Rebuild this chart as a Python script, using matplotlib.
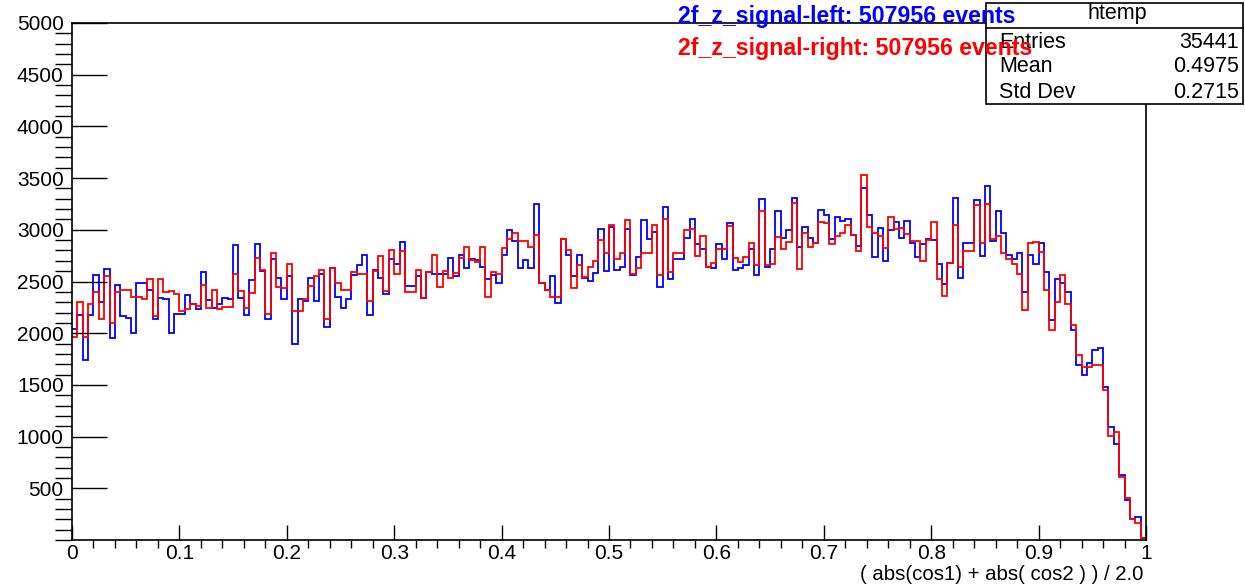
import numpy as np
import matplotlib
matplotlib.use("Agg")
import matplotlib.pyplot as plt
from matplotlib.patches import Rectangle
from matplotlib.ticker import MultipleLocator

plt.rcParams['font.family'] = ['Liberation Sans', 'DejaVu Sans']

# 200 bins on [0, 1]
x_lo = 0.0
x_hi = 1.0

left_counts = [
    2042, 2180, 1745, 2180, 2565, 2300, 2620, 1950, 2470, 2163,
    2147, 2000, 2490, 2490, 2415, 2140, 2343, 2333, 2000, 2186,
    2186, 2366, 2278, 2238, 2595, 2317, 2245, 2278, 2336, 2327,
    2850, 2343, 2180, 2519, 2859, 2597, 2138, 2713, 2536, 2326,
    2551, 1896, 2332, 2309, 2536, 2316, 2568, 2058, 2629, 2348,
    2245, 2332, 2561, 2655, 2752, 2173, 2610, 2536, 2377, 2713,
    2665, 2881, 2455, 2455, 2551, 2341, 2592, 2570, 2568, 2568,
    2723, 2551, 2752, 2632, 2720, 2707, 2640, 2526, 2560, 2487,
    2752, 2994, 2890, 2632, 2710, 2632, 3246, 2487, 2422, 2551,
    2294, 2907, 2752, 2551, 2761, 2536, 2503, 2584, 3003, 2600,
    3024, 2616, 2642, 3003, 2559, 2736, 3094, 2907, 2978, 2445,
    3220, 2526, 2713, 2713, 2923, 3100, 2859, 2817, 2642, 2629,
    2859, 2713, 3062, 2616, 2633, 2655, 2817, 2559, 3301, 2642,
    2810, 3181, 2923, 2994, 3310, 2833, 3030, 2923, 2875, 3191,
    3139, 2907, 3126, 3085, 3100, 2946, 2842, 3407, 3139, 2736,
    3020, 2697, 2994, 3078, 2923, 3085, 2875, 2736, 2859, 2907,
    2900, 2671, 2471, 2675, 3310, 2536, 2875, 2875, 3288, 2743,
    3424, 2891, 3185, 2972, 2761, 2713, 2778, 2403, 2761, 2674,
    2875, 2590, 2125, 2526, 2487, 2403, 2028, 1696, 1599, 1712,
    1841, 1854, 1480, 1092, 930, 627, 388, 200, 226, 20,
]

right_counts = [
    1960, 2300, 1960, 2284, 2400, 2137, 2555, 2100, 2400, 2418,
    2418, 2353, 2353, 2327, 2523, 2163, 2523, 2400, 2410, 2376,
    2212, 2238, 2278, 2260, 2464, 2245, 2418, 2235, 2255, 2255,
    2572, 2408, 2241, 2390, 2726, 2616, 2190, 2778, 2448, 2439,
    2671, 2219, 2219, 2332, 2455, 2551, 2616, 2138, 2629, 2481,
    2416, 2416, 2590, 2568, 2577, 2316, 2597, 2745, 2406, 2803,
    2577, 2791, 2403, 2403, 2616, 2342, 2592, 2761, 2445, 2600,
    2536, 2580, 2723, 2832, 2710, 2690, 2832, 2352, 2592, 2570,
    2820, 2913, 2965, 2890, 2890, 2832, 2949, 2487, 2422, 2352,
    2352, 2907, 2800, 2433, 2655, 2545, 2642, 2697, 2900, 2778,
    3046, 2713, 2771, 3094, 2575, 2633, 2771, 2771, 3042, 2559,
    3100, 2590, 2778, 2778, 2998, 3004, 2746, 2939, 2642, 2681,
    2817, 2810, 3036, 2726, 2687, 2739, 2875, 2661, 3181, 2655,
    2665, 2933, 2817, 2881, 3262, 2617, 2965, 2833, 2875, 3078,
    3062, 2859, 2939, 2972, 3046, 2946, 2794, 3527, 3030, 2965,
    2939, 2826, 3123, 3004, 3020, 2955, 2891, 2891, 2697, 2900,
    3075, 2526, 2358, 2681, 3042, 2642, 2794, 2794, 3236, 2875,
    3253, 2907, 2939, 2778, 2713, 2665, 2577, 2229, 2875, 2885,
    2784, 2422, 2028, 2300, 2561, 2284, 2077, 1793, 1670, 1670,
    1696, 1696, 1453, 1001, 1049, 614, 410, 200, 162, 20,
]

left_label = "2f_z_signal-left: 507956 events"
right_label = "2f_z_signal-right: 507956 events"
stat_names = ["Entries", "Mean", "Std Dev"]
stat_values = ["35441", "0.4975", "0.2715"]
x_title = "( abs(cos1) + abs( cos2 ) ) / 2.0"

W, H = 1245, 587
fig = plt.figure(figsize=(W / 100, H / 100), dpi=100)

def fx(px):
    return px / W

def fy(py):
    return 1 - py / H

ax = fig.add_axes([fx(72), fy(540), fx(1146) - fx(72), fy(23) - fy(540)])

edges = np.linspace(x_lo, x_hi, len(left_counts) + 1)
ax.stairs(left_counts, edges, baseline=None, color='#0000ff', lw=1.3)
ax.stairs(right_counts, edges, baseline=None, color='#ff0000', lw=1.3)

ax.set_xlim(0, 1)
ax.set_ylim(0, 5000)
ax.xaxis.set_minor_locator(MultipleLocator(0.02))
ax.yaxis.set_minor_locator(MultipleLocator(100))
ax.set_xticks(np.arange(0, 1.01, 0.1))
ax.set_xticklabels(['0', '0.1', '0.2', '0.3', '0.4', '0.5', '0.6', '0.7', '0.8', '0.9', '1'])
ax.set_yticks(np.arange(500, 5001, 500))
ax.set_yticklabels([str(v) for v in range(500, 5001, 500)])

ax.tick_params(direction='in', labelsize=15, colors='black')
ax.tick_params(axis='y', which='major', length=25, width=1, pad=6)
ax.tick_params(axis='y', which='minor', length=12, width=1)
ax.tick_params(axis='x', which='major', length=11, width=1, pad=3)
ax.tick_params(axis='x', which='minor', length=6, width=1)
for s in ax.spines.values():
    s.set_linewidth(1.2)

fig.text(fx(1143), fy(574), x_title, ha='right', va='center', fontsize=14.7)

# stats box (drawn over the frame)
box = Rectangle((fx(986), fy(104)), fx(1243) - fx(986), fy(3) - fy(104),
                transform=fig.transFigure, facecolor='white', edgecolor='black',
                lw=1.2, zorder=5)
fig.add_artist(box)
fig.add_artist(plt.Line2D([fx(986), fx(1243)], [fy(28), fy(28)],
                          transform=fig.transFigure, color='black', lw=1.2, zorder=5))
fig.text(fx(1117), fy(14), "htemp", ha='center', va='center', fontsize=15.5, zorder=6)
for i, (n, v) in enumerate(zip(stat_names, stat_values)):
    yy = 42 + 25 * i
    fig.text(fx(999), fy(yy), n, ha='left', va='center', fontsize=15.5, zorder=6)
    fig.text(fx(1239), fy(yy), v, ha='right', va='center', fontsize=15.5, zorder=6)

# legend-like titles, on top of the box
fig.text(fx(678), fy(17), left_label, color='#0000ff', fontsize=16.7,
         fontweight='bold', ha='left', va='center', zorder=7)
fig.text(fx(678), fy(49), right_label, color='#ff0000', fontsize=16.7,
         fontweight='bold', ha='left', va='center', zorder=7)

fig.savefig('out.png', dpi=100)
